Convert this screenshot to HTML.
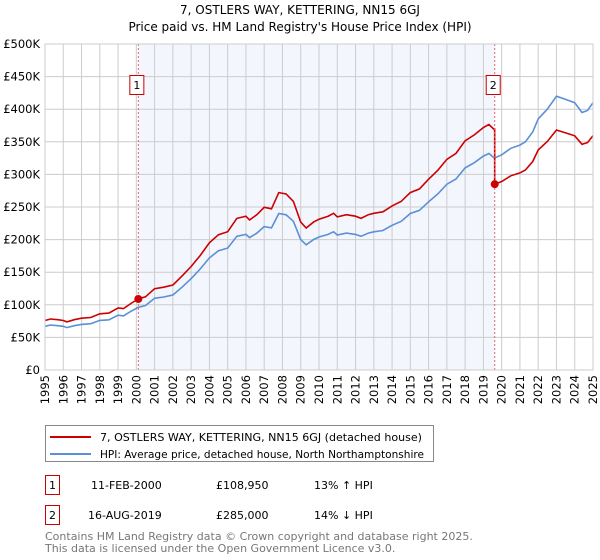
<!DOCTYPE html>
<html><head><meta charset="utf-8"><style>
body{margin:0;background:#fff;font-family:"Liberation Sans","DejaVu Sans",sans-serif;}
#wrap{position:relative;width:600px;height:560px;overflow:hidden;}
</style></head><body><div id="wrap">
<svg id="chart" width="600" height="560" xmlns="http://www.w3.org/2000/svg" font-family="DejaVu Sans, Liberation Sans, sans-serif">
<text x="300" y="14" text-anchor="middle" font-size="12">7, OSTLERS WAY, KETTERING, NN15 6GJ</text>
<text x="300" y="31" text-anchor="middle" font-size="12">Price paid vs. HM Land Registry's House Price Index (HPI)</text>
<g id="grid"></g><g id="marks"></g><g id="axes"></g>
<g>
<rect x="45.5" y="425.5" width="388" height="36" fill="#fff" stroke="#888"/>
<line x1="50" y1="437" x2="91" y2="437" stroke="#cc0000" stroke-width="2"/>
<text x="100" y="441" font-size="10.5" textLength="322" lengthAdjust="spacingAndGlyphs">7, OSTLERS WAY, KETTERING, NN15 6GJ (detached house)</text>
<line x1="50" y1="454" x2="91" y2="454" stroke="#5b8fd6" stroke-width="2"/>
<text x="100" y="458" font-size="10.5" textLength="324" lengthAdjust="spacingAndGlyphs">HPI: Average price, detached house, North Northamptonshire</text>
</g>
<g font-size="11">
<rect x="45.5" y="475.5" width="14" height="19" fill="#fff" stroke="#cc0000"/>
<text x="52.5" y="489" text-anchor="middle">1</text>
<text x="91" y="489">11-FEB-2000</text><text x="216" y="489">£108,950</text><text x="314" y="489">13% ↑ HPI</text>
<rect x="45.5" y="505.5" width="14" height="19" fill="#fff" stroke="#cc0000"/>
<text x="52.5" y="519" text-anchor="middle">2</text>
<text x="88" y="519">16-AUG-2019</text><text x="216" y="519">£285,000</text><text x="314" y="519">14% ↓ HPI</text>
</g>
<text x="45" y="540" font-size="11" fill="#777">Contains HM Land Registry data © Crown copyright and database right 2025.</text>
<text x="45" y="552" font-size="11" fill="#777">This data is licensed under the Open Government Licence v3.0.</text>
</svg></div>
<script>
const hpiYears=[1995,1995.3,1995.7,1996,1996.2,1996.6,1997,1997.5,1998,1998.5,1999,1999.3,1999.7,2000.1,2000.5,2001,2001.5,2002,2002.5,2003,2003.5,2004,2004.5,2005,2005.5,2006,2006.2,2006.6,2007,2007.4,2007.8,2008.2,2008.6,2009,2009.3,2009.7,2010,2010.5,2010.8,2011,2011.5,2012,2012.3,2012.7,2013,2013.5,2014,2014.5,2015,2015.5,2016,2016.5,2017,2017.5,2018,2018.5,2019,2019.3,2019.6,2020,2020.5,2021,2021.3,2021.7,2022,2022.5,2023,2023.5,2024,2024.4,2024.7,2025];
const hpiValues=[67,69,68,67,65,68,70,71,76,77,84,83,90,96,99,110,112,115,127,140,155,172,183,187,205,208,203,210,220,218,240,238,228,200,192,200,204,208,212,207,210,208,205,210,212,214,222,228,240,245,258,270,285,293,310,318,328,332,325,330,340,345,350,365,385,400,420,415,410,395,398,410];
const saleYears=[2000.11,2019.62];
const salePrices=[108.95,285];
const saleLabels=["1","2"];
const yTicks=[0,50,100,150,200,250,300,350,400,450,500];
const yTickLabels=["£0","£50K","£100K","£150K","£200K","£250K","£300K","£350K","£400K","£450K","£500K"];
const xTicks=[1995,1996,1997,1998,1999,2000,2001,2002,2003,2004,2005,2006,2007,2008,2009,2010,2011,2012,2013,2014,2015,2016,2017,2018,2019,2020,2021,2022,2023,2024,2025];

const X0=45,X1=593,Y0=370,Y1=44;
const xS=v=>X0+(v-1995)/(2025-1995)*(X1-X0);
const yS=v=>Y0-v/500*(Y0-Y1);
const NS="http://www.w3.org/2000/svg";
function mk(tag,attrs,parent){const e=document.createElementNS(NS,tag);for(const k in attrs)e.setAttribute(k,attrs[k]);parent.appendChild(e);return e;}
const grid=document.getElementById('grid'),marks=document.getElementById('marks'),axes=document.getElementById('axes');
function hpiAt(t){for(let i=1;i<hpiYears.length;i++){if(t<=hpiYears[i]){const f=(t-hpiYears[i-1])/(hpiYears[i]-hpiYears[i-1]);return hpiValues[i-1]+f*(hpiValues[i]-hpiValues[i-1]);}}return hpiValues[hpiValues.length-1];}

const shade=mk('rect',{x:xS(saleYears[0]),y:Y1,width:xS(saleYears[1])-xS(saleYears[0]),height:Y0-Y1,fill:'#f3f6fd'},grid);


yTicks.forEach((v,i)=>{
 const l=mk('line',{x1:X0,x2:X1,y1:yS(v),y2:yS(v),stroke:'#cccccc'},grid);
 
 
 const t=mk('text',{x:40,y:yS(v)+4,'text-anchor':'end','font-size':'11.5'},axes);
 t.textContent=yTickLabels[i];
 
 
});
xTicks.forEach(v=>{
 const l=mk('line',{x1:xS(v),x2:xS(v),y1:Y1,y2:Y0,stroke:'#cccccc'},grid);
 
 
 const t=mk('text',{x:0,y:0,'text-anchor':'end','font-size':'11.5',transform:`translate(${xS(v)+4},375) rotate(-90)`},axes);
 t.textContent=v;
 
 
});
const frame=mk('rect',{x:X0,y:Y1,width:X1-X0,height:Y0-Y1,fill:'none',stroke:'#cccccc'},axes);



const hp=hpiYears.map((t,i)=>`${xS(t).toFixed(1)},${yS(hpiValues[i]).toFixed(1)}`).join(' ');
const hl=mk('polyline',{points:hp,fill:'none',stroke:'#5b8fd6','stroke-width':1.6},marks);


const r1=salePrices[0]/hpiAt(saleYears[0]),r2=salePrices[1]/hpiAt(saleYears[1]);
let pts=[];
hpiYears.forEach((t,i)=>{if(t<saleYears[1])pts.push([t,hpiValues[i]*r1]);});
pts.push([saleYears[1],hpiAt(saleYears[1])*r1]);
pts.push([saleYears[1],salePrices[1]]);
hpiYears.forEach((t,i)=>{if(t>saleYears[1])pts.push([t,hpiValues[i]*r2]);});
const pl=mk('polyline',{points:pts.map(p=>`${xS(p[0]).toFixed(1)},${yS(p[1]).toFixed(1)}`).join(' '),fill:'none',stroke:'#cc0000','stroke-width':1.6},marks);


saleYears.forEach((t,i)=>{
 const vl=mk('line',{x1:xS(t),x2:xS(t),y1:Y1,y2:Y0,stroke:'#e06666','stroke-dasharray':'2,2'},marks);
 
 
 const d=mk('circle',{cx:xS(t),cy:yS(salePrices[i]),r:4,fill:'#cc0000'},marks);
 
 
 const b=mk('rect',{x:xS(t)-8.5,y:75.5,width:14,height:19,fill:'#fff',stroke:'#cc0000'},marks);
 
 
 const tx=mk('text',{x:xS(t)-1.5,y:89,'text-anchor':'middle','font-size':'11'},marks);
 tx.textContent=saleLabels[i];
 
 
});
</script></body></html>
